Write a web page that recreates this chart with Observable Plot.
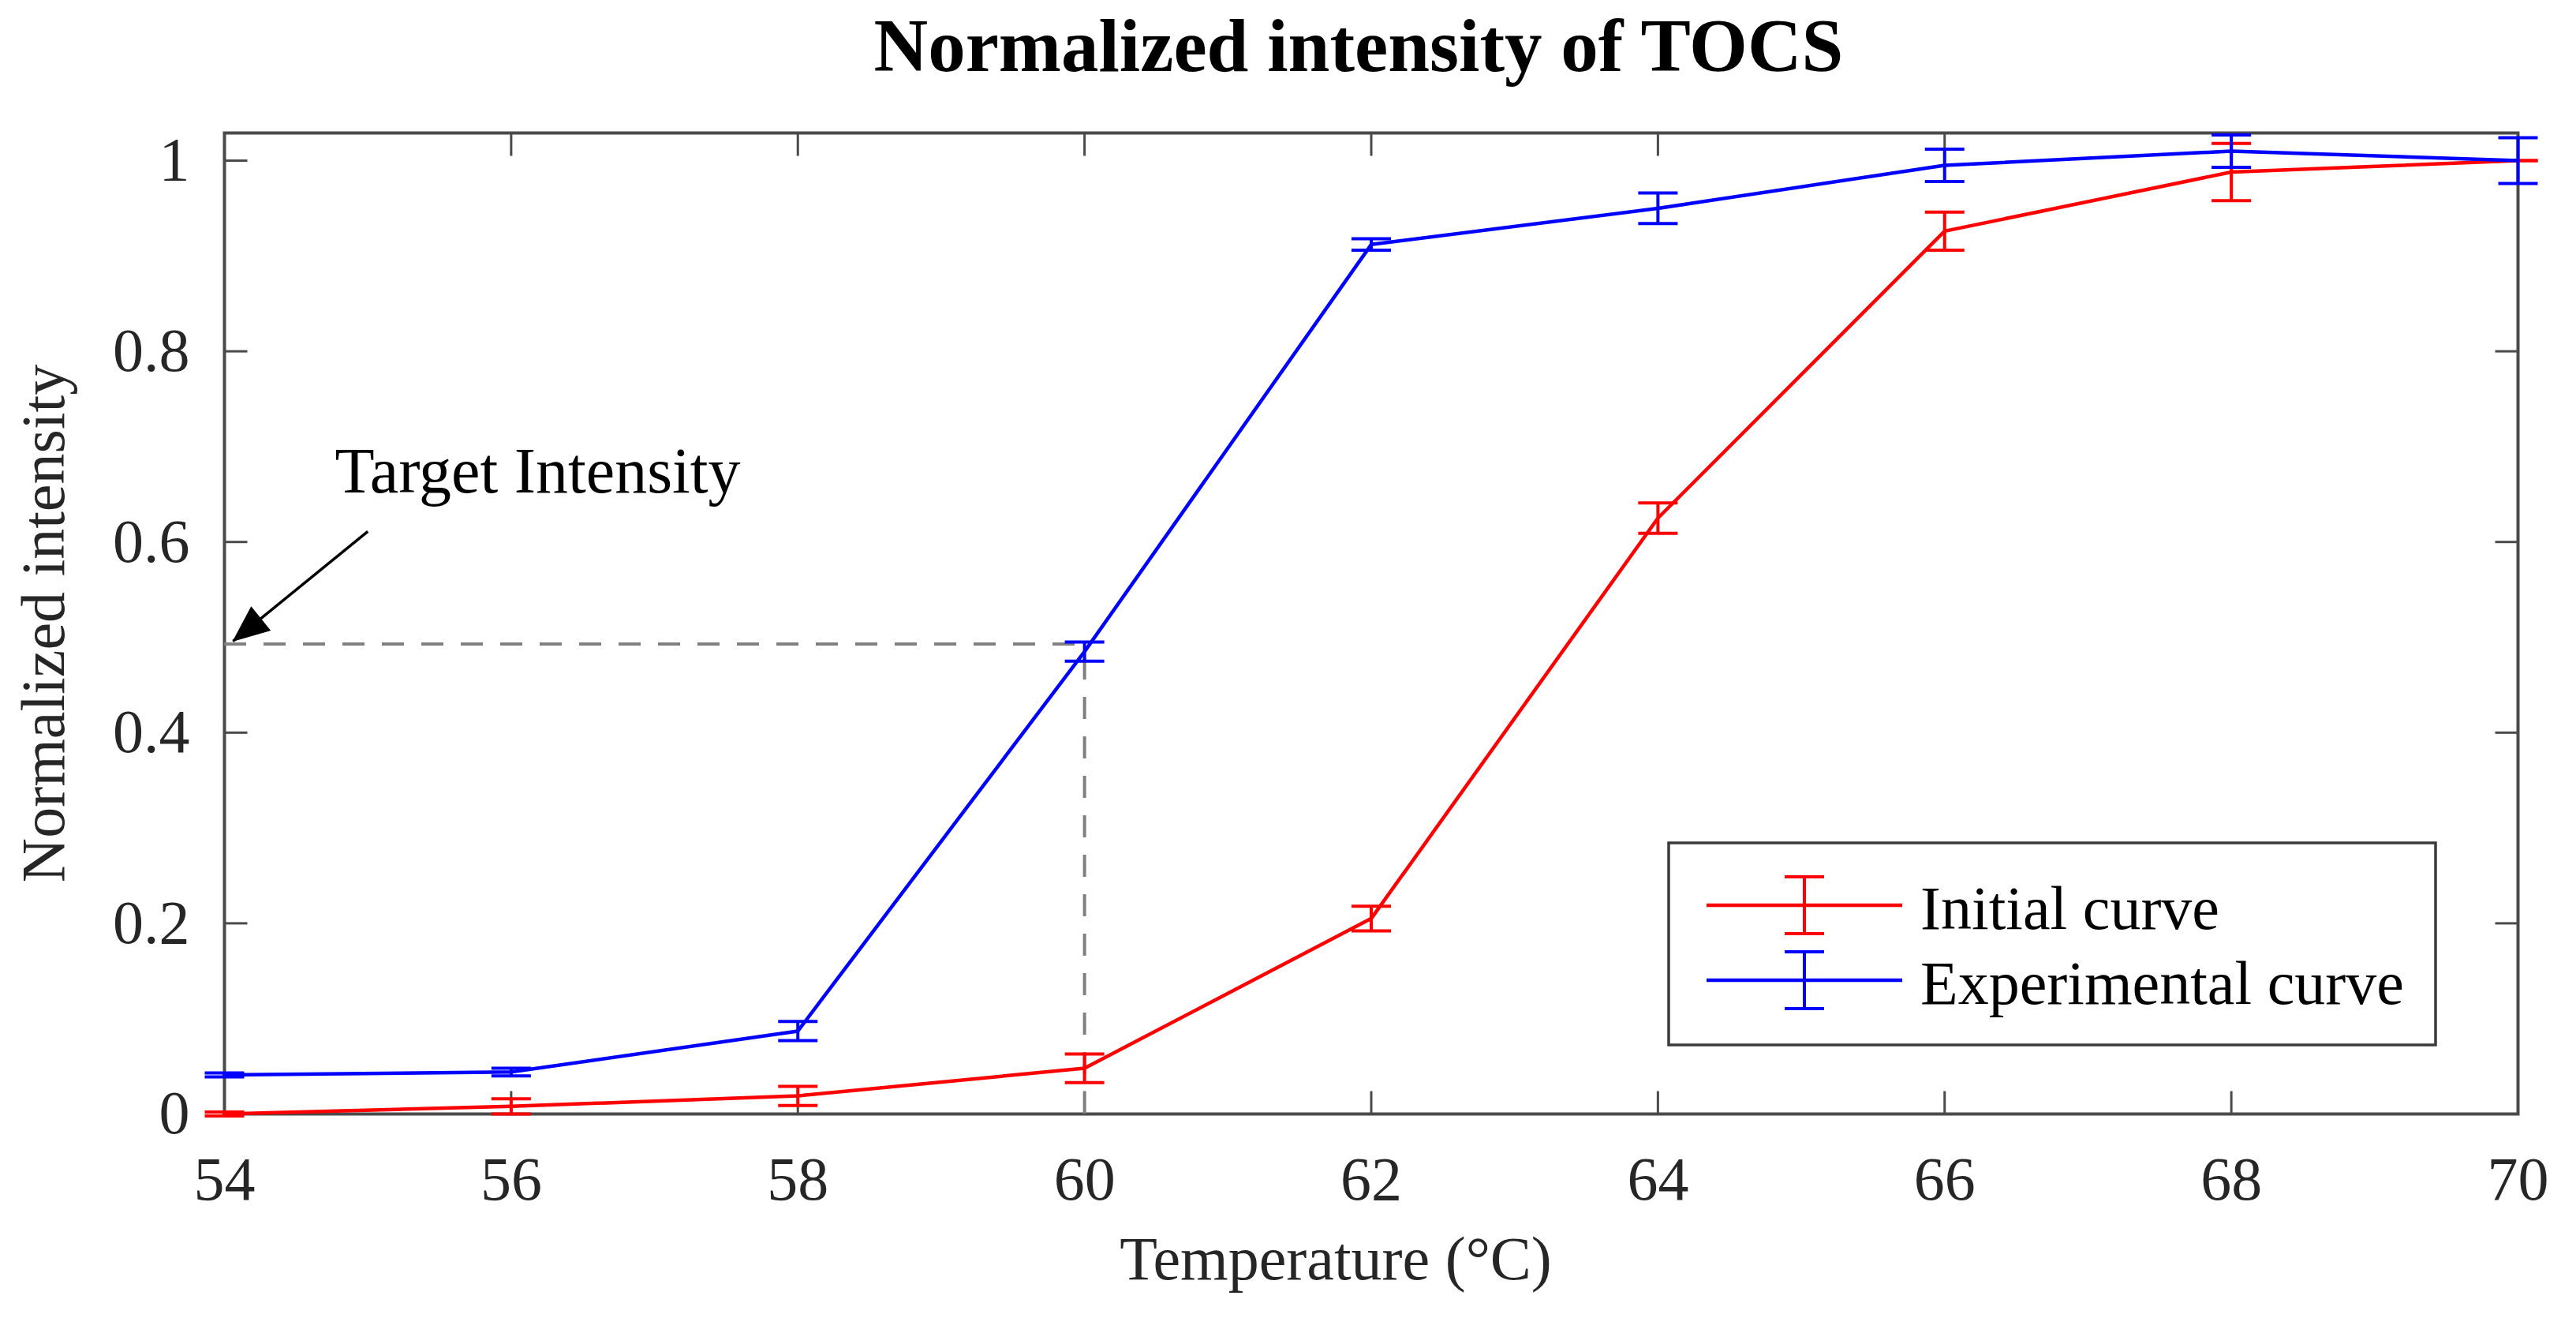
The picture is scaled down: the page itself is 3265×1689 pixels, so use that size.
<!DOCTYPE html>
<html>
<head>
<meta charset="utf-8">
<script src="https://cdn.jsdelivr.net/npm/d3@7"></script>
<script src="https://cdn.jsdelivr.net/npm/@observablehq/plot@0.6"></script>
<style>
  html, body { margin: 0; padding: 0; background: #fff; overflow: hidden; }
  #wrap { position: relative; width: 3265px; height: 1689px; }
  #wrap svg { display: block; }
  #legend { position: absolute; left: 0; top: 0; }
</style>
</head>
<body>
<div id="wrap"></div>
<script>
// ---------- data ----------
const temperatures = [54, 56, 58, 60, 62, 64, 66, 68, 70];
const initialValues = [0.000, 0.008, 0.019, 0.048, 0.205, 0.625, 0.926, 0.988, 1.000];
const initialErrors = [0.002, 0.008, 0.010, 0.015, 0.013, 0.016, 0.020, 0.030, 0.000];
const experimentalValues = [0.041, 0.044, 0.087, 0.485, 0.912, 0.950, 0.995, 1.010, 1.000];
const experimentalErrors = [0.002, 0.004, 0.010, 0.010, 0.006, 0.016, 0.017, 0.017, 0.024];

const xTicks = [54, 56, 58, 60, 62, 64, 66, 68, 70];
const yTicks = [0, 0.2, 0.4, 0.6, 0.8, 1];
const yTickLabels = ["0", "0.2", "0.4", "0.6", "0.8", "1"];

const seriesNames = ["Initial curve", "Experimental curve"];
const seriesColors = ["#ff0000", "#0000ff"];

const targetIntensity = 0.493;
const targetTemperature = 60;
const annotationText = "Target Intensity";
const annotationPos = [{x: 54.77, y: 0.652}];
const arrowTail = {x: 55.0, y: 0.611};
const arrowTip = {x: 54.06, y: 0.496};

const titleText = "Normalized intensity of TOCS";
const xLabel = "Temperature (°C)";
const yLabel = "Normalized intensity";

// ---------- derived tables ----------
const initialRows = temperatures.map((t, i) => ({t, v: initialValues[i], e: initialErrors[i]}));
const experimentalRows = temperatures.map((t, i) => ({t, v: experimentalValues[i], e: experimentalErrors[i]}));

// ---------- styles ----------
const FONT = "Liberation Serif";
const axisColor = "#4a4a4a";
const textColor = "#262626";
const TICK = 29;
const CAP = 25;

const tickRight = {draw(c) { c.moveTo(0, 0); c.lineTo(TICK, 0); }};
const tickLeft  = {draw(c) { c.moveTo(0, 0); c.lineTo(-TICK, 0); }};
const tickUp    = {draw(c) { c.moveTo(0, 0); c.lineTo(0, -TICK); }};
const tickDown  = {draw(c) { c.moveTo(0, 0); c.lineTo(0, TICK); }};
const capSym    = {draw(c) { c.moveTo(-CAP, 0); c.lineTo(CAP, 0); }};
const headSym   = {draw(c) { c.moveTo(0, 0); c.lineTo(-19, 45); c.lineTo(19, 45); c.closePath(); }};

function seriesMarks(rows, color) {
  return [
    Plot.line(rows, {x: "t", y: "v", stroke: color, strokeWidth: 4.5}),
    Plot.ruleX(rows, {x: "t", y1: d => d.v - d.e, y2: d => d.v + d.e, stroke: color, strokeWidth: 4}),
    Plot.dot(rows, {x: "t", y: d => d.v - d.e, symbol: capSym, stroke: color, strokeWidth: 4, fill: "none"}),
    Plot.dot(rows, {x: "t", y: d => d.v + d.e, symbol: capSym, stroke: color, strokeWidth: 4, fill: "none"})
  ];
}

const yTop = 1.029;

const chart = Plot.plot({
  width: 3265,
  height: 1689,
  marginTop: 168,
  marginBottom: 278,
  marginLeft: 284,
  marginRight: 74,
  x: {domain: [54, 70], axis: null},
  y: {domain: [0, yTop], axis: null},
  style: {fontFamily: FONT, background: "white", overflow: "visible"},
  marks: [
    // frame + inward ticks
    Plot.frame({stroke: axisColor, strokeWidth: 4}),
    Plot.dot(yTicks, {x: 54, y: d => d, symbol: tickRight, stroke: axisColor, strokeWidth: 3, fill: "none"}),
    Plot.dot(yTicks, {x: 70, y: d => d, symbol: tickLeft, stroke: axisColor, strokeWidth: 3, fill: "none"}),
    Plot.dot(xTicks, {x: d => d, y: 0, symbol: tickUp, stroke: axisColor, strokeWidth: 3, fill: "none"}),
    Plot.dot(xTicks, {x: d => d, y: yTop, symbol: tickDown, stroke: axisColor, strokeWidth: 3, fill: "none"}),

    // tick labels
    Plot.text(yTicks, {x: 54, y: d => d, text: (d, i) => yTickLabels[i], textAnchor: "end", lineAnchor: "middle",
      dx: -44, fontSize: 78, fontFamily: FONT, fill: textColor}),
    Plot.text(xTicks, {x: d => d, y: 0, text: d => String(d), textAnchor: "middle", lineAnchor: "bottom",
      dy: 108, fontSize: 78, fontFamily: FONT, fill: textColor}),

    // titles
    Plot.text([titleText], {frameAnchor: "top", text: d => d, dy: -79, dx: -16, lineAnchor: "bottom",
      fontSize: 95, fontWeight: "bold", fontFamily: FONT, fill: "#000"}),
    Plot.text([xLabel], {frameAnchor: "bottom", text: d => d, dy: 209, dx: -45, lineAnchor: "bottom",
      fontSize: 78, fontFamily: FONT, fill: textColor}),
    Plot.text([yLabel], {frameAnchor: "left", text: d => d, rotate: -90, dx: -204, lineAnchor: "bottom",
      textAnchor: "middle", fontSize: 78, fontFamily: FONT, fill: textColor}),

    // target intensity guides
    Plot.ruleY([targetIntensity], {x1: 54, x2: targetTemperature, stroke: "#808080", strokeWidth: 4, strokeDasharray: "28,22"}),
    Plot.ruleX([targetTemperature], {y1: 0, y2: targetIntensity, stroke: "#808080", strokeWidth: 4, strokeDasharray: "28,22"}),

    // series
    ...seriesMarks(initialRows, seriesColors[0]),
    ...seriesMarks(experimentalRows, seriesColors[1]),

    // annotation
    Plot.link([{a: arrowTail, b: arrowTip}], {x1: d => d.a.x, y1: d => d.a.y, x2: d => d.b.x, y2: d => d.b.y,
      stroke: "#000", strokeWidth: 3.5}),
    Plot.dot([arrowTip], {x: "x", y: "y", symbol: headSym, rotate: -129, fill: "#000", stroke: "#000", strokeWidth: 1}),
    Plot.text(annotationPos, {x: "x", y: "y", text: () => annotationText, textAnchor: "start", lineAnchor: "bottom",
      fontSize: 82, fontFamily: FONT, fill: "#000"})
  ]
});

const wrap = document.getElementById("wrap");
wrap.appendChild(chart);

// ---------- legend ----------
const legend = d3.create("svg").attr("id", "legend").attr("width", 3265).attr("height", 1689)
  .style("position", "absolute").style("left", "0px").style("top", "0px");
legend.append("rect").attr("x", 2115).attr("y", 1068).attr("width", 972).attr("height", 256)
  .attr("fill", "#fff").attr("stroke", "#3a3a3a").attr("stroke-width", 3.5);
const rowsY = [1147, 1242];
seriesNames.forEach((name, i) => {
  const g = legend.append("g").attr("transform", `translate(0,${rowsY[i]})`);
  const c = seriesColors[i];
  g.append("line").attr("x1", 2163).attr("x2", 2411).attr("y1", 0).attr("y2", 0).attr("stroke", c).attr("stroke-width", 4.5);
  g.append("line").attr("x1", 2287).attr("x2", 2287).attr("y1", -36).attr("y2", 36).attr("stroke", c).attr("stroke-width", 4);
  g.append("line").attr("x1", 2262).attr("x2", 2312).attr("y1", -36).attr("y2", -36).attr("stroke", c).attr("stroke-width", 4);
  g.append("line").attr("x1", 2262).attr("x2", 2312).attr("y1", 36).attr("y2", 36).attr("stroke", c).attr("stroke-width", 4);
  g.append("text").attr("x", 2434).attr("y", 30).attr("font-family", FONT).attr("font-size", 78)
    .attr("fill", "#000").text(name);
});
wrap.appendChild(legend.node());
</script>
</body>
</html>
